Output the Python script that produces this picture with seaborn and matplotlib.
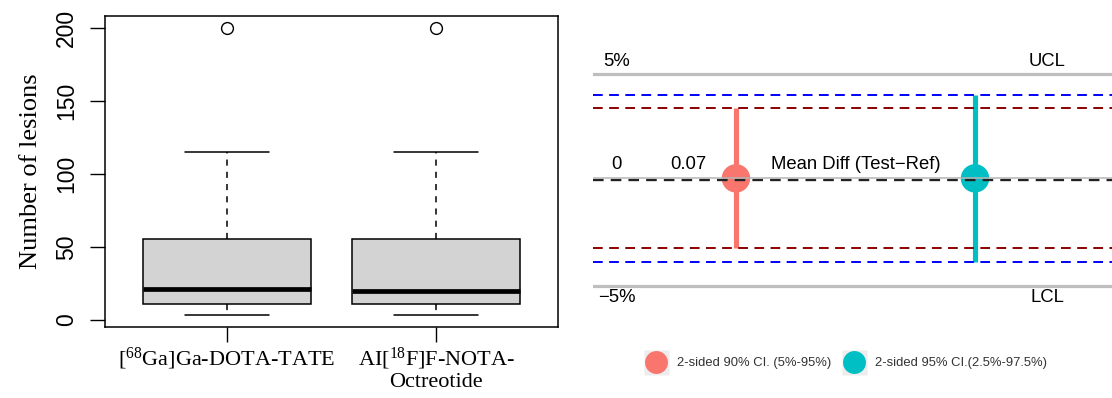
import numpy as np
import pandas as pd
import matplotlib
matplotlib.use("Agg")
import matplotlib.pyplot as plt
import seaborn as sns
from matplotlib.lines import Line2D
from matplotlib.legend_handler import HandlerTuple

# ---------------- data ----------------
tracers = [r"[$^{68}$Ga]Ga-DOTA-TATE", "AI[$^{18}$F]F-NOTA-\nOctreotide"]
# values chosen so that the box statistics match the picture
# (min 3, Q1 11, median 21/20, Q3 55, upper whisker 115, outlier 200)
lesions_ga = [3, 11, 11, 21, 21, 55, 55, 115, 200]
lesions_al = [3, 11, 11, 20, 20, 55, 55, 115, 200]
y_ticks = [0, 50, 100, 150, 200]

ci_labels = ["2-sided 90% CI. (5%-95%)", "2-sided 95% CI.(2.5%-97.5%)"]
ci_colors = ["#F8766D", "#00BFC4"]
bound_colors = ["#8B0000", "#0000FF"]
mean_diff = [0.07, 0.07]
ci_lower = [-3.23, -3.87]
ci_upper = [3.37, 4.01]
margin = 5

# ---------------- style ----------------
sns.set_style("white")
plt.rcParams["font.family"] = ["Liberation Sans", "DejaVu Sans"]
plt.rcParams["mathtext.default"] = "regular"
SERIF = ["Liberation Serif", "DejaVu Serif"]

fig = plt.figure(figsize=(11.12, 3.98), dpi=100)
W, H = 1112, 398
ax1 = fig.add_axes([105 / W, 1 - 327 / H, 453 / W, 311 / H])
ax2 = fig.add_axes([593 / W, 1 - 330 / H, 519 / W, 300 / H])

# ---------------- left: boxplot ----------------
df = pd.DataFrame({
    "tracer": [tracers[0]] * len(lesions_ga) + [tracers[1]] * len(lesions_al),
    "lesions": lesions_ga + lesions_al,
})
sns.boxplot(
    data=df, x="tracer", y="lesions", order=tracers, ax=ax1,
    color="#D3D3D3", saturation=1, linecolor="black", linewidth=1.1,
    width=0.8, whis=1.5,
    medianprops=dict(linewidth=3.4, color="black"),
    whiskerprops=dict(linestyle=(0, (4, 4)), color="black"),
    capprops=dict(color="black"),
    flierprops=dict(marker="o", markersize=8.5, markerfacecolor="none",
                    markeredgecolor="black", markeredgewidth=1.0),
)
ax1.set_xlim(-0.58, 1.58)
ax1.set_ylim(-4.9, 207.9)
ax1.set_yticks(y_ticks)
ax1.set_yticklabels([str(v) for v in y_ticks])
for sp in ax1.spines.values():
    sp.set_visible(True)
    sp.set_color("black")
    sp.set_linewidth(1.1)
ax1.tick_params(axis="y", left=True, length=10.5, width=1.0, colors="black",
                labelsize=16.5, labelrotation=90, pad=9)
for lab in ax1.get_yticklabels():
    lab.set_va("center")
ax1.tick_params(axis="x", bottom=True, length=10.5, width=1.0, colors="black",
                labelsize=16, pad=3)
for lab in ax1.get_xticklabels():
    lab.set_family(SERIF)
    lab.set_linespacing(1.05)
ax1.set_xlabel("")
ax1.set_ylabel("Number of lesions", family=SERIF, fontsize=19, color="black")
ax1.yaxis.set_label_coords(-0.14, 0.5)

# ---------------- right: equivalence plot ----------------
ax2.axhline(margin, color="#BEBEBE", lw=2.3, zorder=1)
ax2.axhline(-margin, color="#BEBEBE", lw=2.3, zorder=1)
for lo, hi, col in zip(ci_lower, ci_upper, bound_colors):
    ax2.axhline(hi, color=col, lw=1.4, ls=(0, (5, 3.3)), zorder=3)
    ax2.axhline(lo, color=col, lw=1.4, ls=(0, (5, 3.3)), zorder=3)
ax2.axhline(0, color="#222222", lw=1.7, ls=(0, (4.5, 3)), zorder=3)
ax2.axhline(mean_diff[0], color="#B5B5B5", lw=1.1, zorder=4)

pos = np.arange(len(ci_labels))
ax2.vlines(pos, ci_lower, ci_upper, colors=ci_colors, lw=3.7, zorder=2)
sns.scatterplot(x=pos, y=mean_diff, hue=ci_labels, palette=ci_colors,
                s=420, edgecolor="none", legend=False, ax=ax2, zorder=2)

ax2.set_xlim(-0.598, 1.573)
ax2.set_ylim(-7.093, 7.078)
ax2.axis("off")

tkw = dict(fontsize=13.3, color="black", ha="center", va="center")
ax2.text(-0.498, 5.57, "5%", **tkw)
ax2.text(1.301, 5.6, "UCL", **tkw)
ax2.text(-0.498, 0.74, "0", **tkw)
ax2.text(-0.2, 0.72, f"{mean_diff[0]:.2f}", **tkw)
ax2.text(0.5, 0.72, "Mean Diff (Test\u2212Ref)", **tkw)
ax2.text(-0.5, -5.58, "\u22125%", **tkw)
ax2.text(1.301, -5.58, "LCL", **tkw)

bg = Line2D([], [], marker="s", ls="none", markersize=18,
            markerfacecolor="#EDEDED", markeredgecolor="none")
handles = [(bg, Line2D([], [], marker="o", ls="none", markersize=16.5,
                       markerfacecolor=c, markeredgecolor="none"))
           for c in ci_colors]
fig.legend(handles, ci_labels, handler_map={tuple: HandlerTuple(ndivide=1, pad=0)},
           loc="center", bbox_to_anchor=(845 / W, 1 - 363 / H), ncol=2,
           frameon=False, fontsize=9.4, handlelength=2.0, handletextpad=0.6,
           columnspacing=0.7, labelcolor="#333333")

fig.savefig("out.png", dpi=100)
